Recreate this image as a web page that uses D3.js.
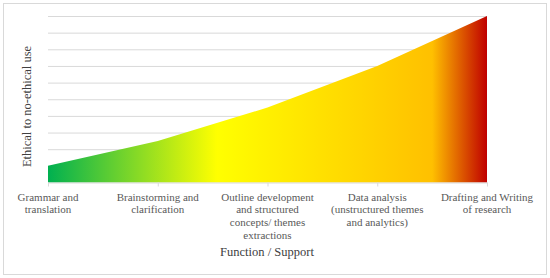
<!DOCTYPE html>
<html>
<head>
<meta charset="utf-8">
<script src="https://cdn.jsdelivr.net/npm/d3@7"></script>
<style>
  html, body { margin: 0; padding: 0; background: #fff; }
  svg { display: block; }
  text { font-family: "Liberation Serif", "DejaVu Serif", serif; }
</style>
</head>
<body>
<svg id="chart" width="550" height="278"></svg>
<script>
const categories = [
  "Grammar and translation",
  "Brainstorming and clarification",
  "Outline development and structured concepts/ themes extractions",
  "Data analysis (unstructured themes and analytics)",
  "Drafting and Writing of research"
];
const categoryLines = [
  ["Grammar and", "translation"],
  ["Brainstorming and", "clarification"],
  ["Outline development", "and structured", "concepts/ themes", "extractions"],
  ["Data analysis", "(unstructured themes", "and analytics)"],
  ["Drafting and Writing", "of research"]
];
const values = [1, 2.5, 4.5, 7, 10];
const yTicks = [0, 1, 2, 3, 4, 5, 6, 7, 8, 9, 10];
const xTitle = "Function / Support";
const yTitle = "Ethical to no-ethical use";
const gradientStops = [
  { offset: 0, color: "#00b050" },
  { offset: 0.385, color: "#ffff00" },
  { offset: 0.875, color: "#ffc000" },
  { offset: 1, color: "#c00000" }
];

const svg = d3.select("#chart");
const plotLeft = 48, plotRight = 487, plotTop = 16, plotBottom = 182.5;

svg.append("rect")
  .attr("x", 3.5).attr("y", 3.5).attr("width", 543).attr("height", 271)
  .attr("fill", "#fff").attr("stroke", "#d9d9d9").attr("stroke-width", 1);

const x = d3.scalePoint().domain(categories).range([plotLeft, plotRight]);
const y = d3.scaleLinear().domain([0, 10]).range([plotBottom, plotTop]);

// gridlines
const gridAxis = d3.axisLeft(y).tickValues(yTicks.filter(d => d > 0))
  .tickSize(-(plotRight - plotLeft)).tickFormat("");
const g = svg.append("g").attr("transform", `translate(${plotLeft},0)`).call(gridAxis);
g.select(".domain").remove();
g.selectAll(".tick line").attr("stroke", "#d9d9d9").attr("stroke-width", 1);

// gradient
const defs = svg.append("defs");
const grad = defs.append("linearGradient").attr("id", "areaGrad")
  .attr("gradientUnits", "userSpaceOnUse")
  .attr("x1", plotLeft).attr("x2", plotRight).attr("y1", 0).attr("y2", 0);
grad.selectAll("stop").data(gradientStops).join("stop")
  .attr("offset", d => d.offset).attr("stop-color", d => d.color);

const area = d3.area()
  .x((d, i) => x(categories[i]))
  .y0(y(0))
  .y1(d => y(d));
svg.append("path").datum(values).attr("d", area).attr("fill", "url(#areaGrad)");

// x axis
const xAxis = d3.axisBottom(x).tickSize(4).tickSizeOuter(0).tickFormat("");
const xa = svg.append("g").attr("transform", `translate(0,${plotBottom})`).call(xAxis);
xa.select(".domain").attr("stroke", "#d9d9d9");
xa.selectAll(".tick line").attr("stroke", "#d9d9d9");

// x labels
const lbl = svg.append("g");
categories.forEach((c, i) => {
  const t = lbl.append("text")
    .attr("x", x(c)).attr("y", 200.5)
    .attr("text-anchor", "middle")
    .attr("font-size", 11).attr("fill", "#595959");
  categoryLines[i].forEach((ln, j) => {
    t.append("tspan").attr("x", x(c)).attr("dy", j === 0 ? 0 : 12.8).text(ln);
  });
});

// axis titles
svg.append("text")
  .attr("x", 267).attr("y", 256)
  .attr("text-anchor", "middle").attr("font-size", 12.5).attr("fill", "#404040")
  .text(xTitle);
svg.append("text")
  .attr("transform", "translate(30.5,106.5) rotate(-90)")
  .attr("text-anchor", "middle").attr("font-size", 12.5).attr("fill", "#404040")
  .text(yTitle);
</script>
</body>
</html>
